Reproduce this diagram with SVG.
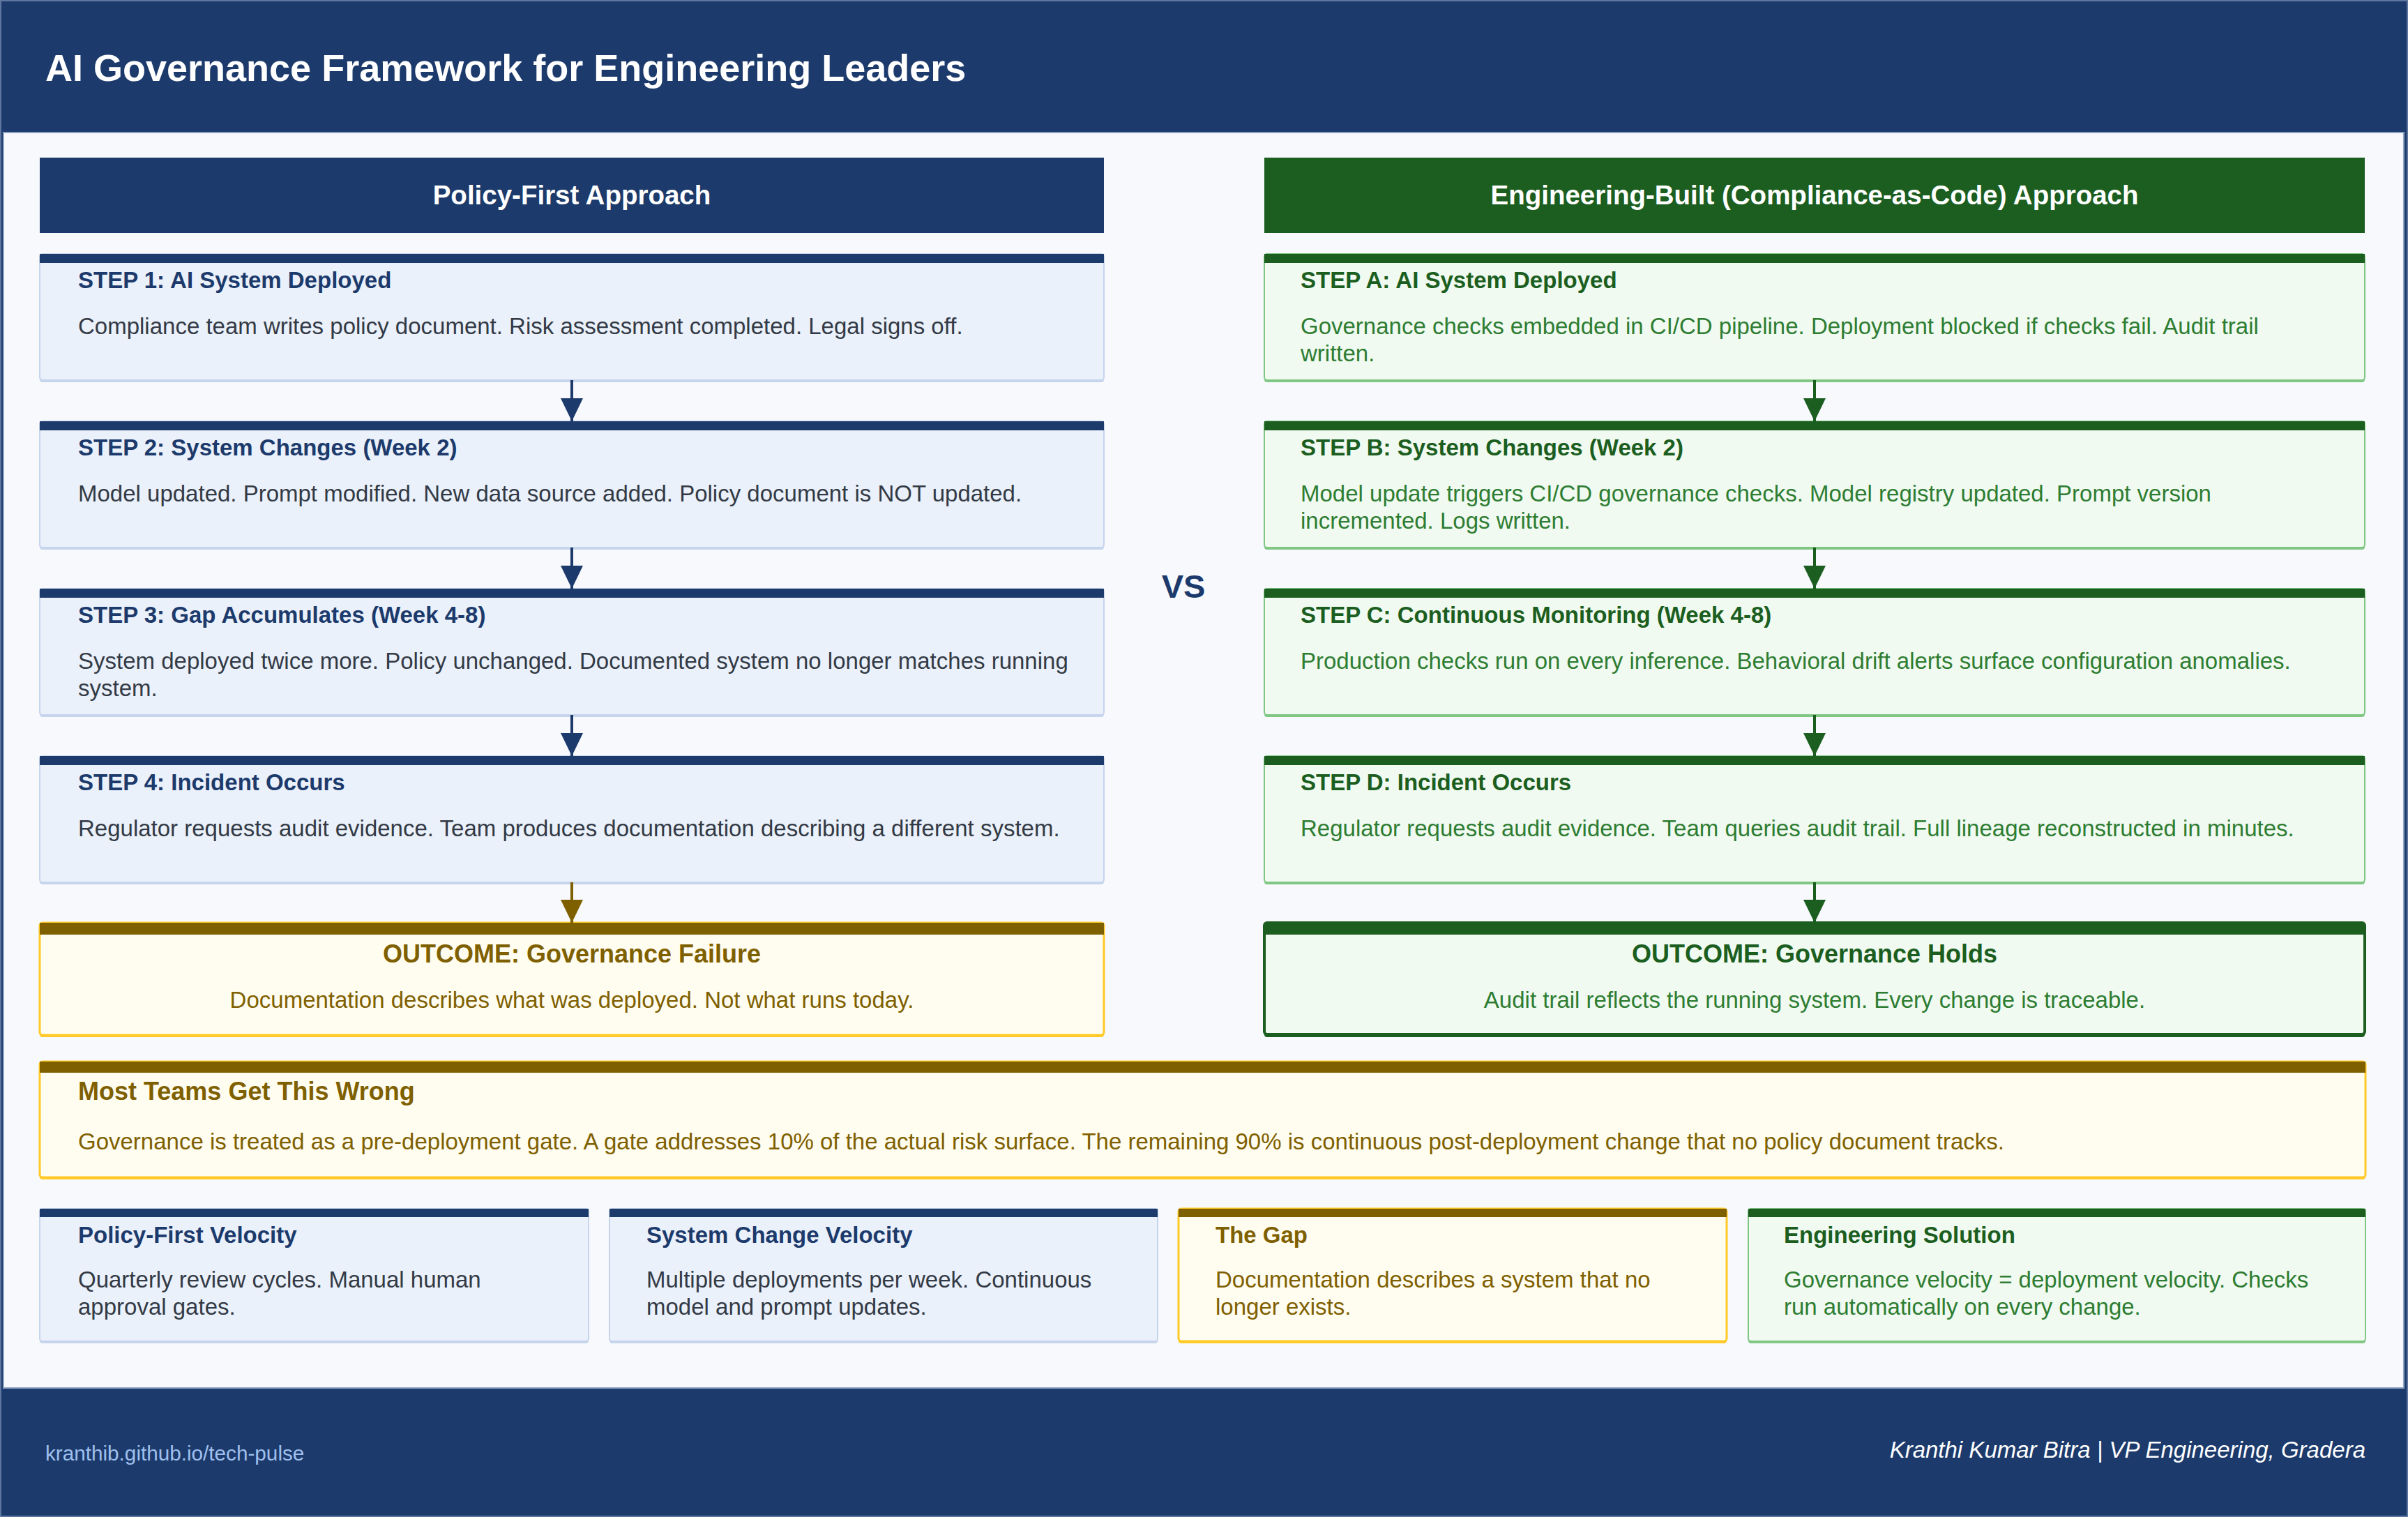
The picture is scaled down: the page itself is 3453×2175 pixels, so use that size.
<svg xmlns="http://www.w3.org/2000/svg" width="3453" height="2175" viewBox="0 0 3453 2175">
  <defs>
    <style>
      text { font-family: "Liberation Sans", Arial, Helvetica, sans-serif; }
      .h1 { font-size: 54px; font-weight: bold; fill: #ffffff; }
      .colhead { font-size: 38.5px; font-weight: bold; fill: #ffffff; }
      .vs { font-size: 47px; font-weight: bold; fill: #1c3a6b; }
      .ttl { font-size: 33px; font-weight: bold; }
      .big { font-size: 36px; font-weight: bold; }
      .txt { font-size: 33px; }
      .navy { fill: #1c3a6b; }
      .gray { fill: #333a45; }
      .dgreen { fill: #1b5e20; }
      .green { fill: #2e7d32; }
      .brown { fill: #7f6000; }
      .c { text-anchor: middle; }
      .box-b { fill: #eaf1fb; stroke: #c6d4ec; stroke-width: 2; }
      .sh-b { fill: #c6d4ec; }
      .bar-b { fill: #1c3a6b; }
      .box-g { fill: #f0faf1; stroke: #81c784; stroke-width: 2; }
      .sh-g { fill: #81c784; }
      .bar-g { fill: #1b5e20; }
      .box-y { fill: #fffdef; stroke: #ffca28; stroke-width: 3; }
      .sh-y { fill: #ffca28; }
      .bar-y { fill: #7f6000; }
      .box-gg { fill: #f0faf1; stroke: #1b5e20; stroke-width: 4; }
      .sh-gg { fill: #1b5e20; }
      .ln-b { stroke: #1c3a6b; stroke-width: 4; fill: none; marker-end: url(#ah-b); }
      .ln-g { stroke: #1b5e20; stroke-width: 4; fill: none; marker-end: url(#ah-g); }
      .ln-y { stroke: #7f6000; stroke-width: 4; fill: none; marker-end: url(#ah-y); }
    </style>
    <marker id="ah-b" viewBox="0 0 33 32" refX="33" refY="16" markerWidth="33" markerHeight="32" markerUnits="userSpaceOnUse" orient="auto">
      <path d="M0,0 L33,16 L0,32 z" fill="#1c3a6b"/>
    </marker>
    <marker id="ah-g" viewBox="0 0 33 32" refX="33" refY="16" markerWidth="33" markerHeight="32" markerUnits="userSpaceOnUse" orient="auto">
      <path d="M0,0 L33,16 L0,32 z" fill="#1b5e20"/>
    </marker>
    <marker id="ah-y" viewBox="0 0 33 32" refX="33" refY="16" markerWidth="33" markerHeight="32" markerUnits="userSpaceOnUse" orient="auto">
      <path d="M0,0 L33,16 L0,32 z" fill="#7f6000"/>
    </marker>
  </defs>

  <!-- frame, header and footer band -->
  <rect x="0" y="0" width="3453" height="2175" fill="#1c3a6b"/>
  <rect x="1" y="1" width="3451" height="2173" fill="none" stroke="#5e76a0" stroke-width="2"/>
  <rect x="5" y="190" width="3442" height="1800" fill="#f7f9fc" stroke="#8ea2c2" stroke-width="2"/>
  <text class="h1" x="65" y="116">AI Governance Framework for Engineering Leaders</text>

  <!-- column headers -->
  <g id="head-policy">
    <rect x="57" y="226" width="1526" height="108" fill="#1c3a6b"/>
    <text class="colhead c" x="820" y="293">Policy-First Approach</text>
  </g>
  <g id="head-engineering">
    <rect x="1813" y="226" width="1578" height="108" fill="#1b5e20"/>
    <text class="colhead c" x="2602" y="293">Engineering-Built (Compliance-as-Code) Approach</text>
  </g>
  <text id="vs" class="vs c" x="1697" y="857">VS</text>

  <!-- policy-first column -->
  <g id="step-1">
    <rect class="sh-b" x="57" y="367" width="1526" height="181" rx="4"/>
    <rect class="box-b" x="57" y="364" width="1526" height="181" rx="4"/>
    <rect class="bar-b" x="57" y="364" width="1526" height="13"/>
    <text class="ttl navy" x="112" y="413">STEP 1: AI System Deployed</text>
    <text class="txt gray" x="112" y="479">Compliance team writes policy document. Risk assessment completed. Legal signs off.</text>
  </g>
  <g id="step-2">
    <rect class="sh-b" x="57" y="607" width="1526" height="181" rx="4"/>
    <rect class="box-b" x="57" y="604" width="1526" height="181" rx="4"/>
    <rect class="bar-b" x="57" y="604" width="1526" height="13"/>
    <text class="ttl navy" x="112" y="653">STEP 2: System Changes (Week 2)</text>
    <text class="txt gray" x="112" y="719">Model updated. Prompt modified. New data source added. Policy document is NOT updated.</text>
  </g>
  <g id="step-3">
    <rect class="sh-b" x="57" y="847" width="1526" height="181" rx="4"/>
    <rect class="box-b" x="57" y="844" width="1526" height="181" rx="4"/>
    <rect class="bar-b" x="57" y="844" width="1526" height="13"/>
    <text class="ttl navy" x="112" y="893">STEP 3: Gap Accumulates (Week 4-8)</text>
    <text class="txt gray" x="112" y="959">System deployed twice more. Policy unchanged. Documented system no longer matches running</text>
    <text class="txt gray" x="112" y="998">system.</text>
  </g>
  <g id="step-4">
    <rect class="sh-b" x="57" y="1087" width="1526" height="181" rx="4"/>
    <rect class="box-b" x="57" y="1084" width="1526" height="181" rx="4"/>
    <rect class="bar-b" x="57" y="1084" width="1526" height="13"/>
    <text class="ttl navy" x="112" y="1133">STEP 4: Incident Occurs</text>
    <text class="txt gray" x="112" y="1199">Regulator requests audit evidence. Team produces documentation describing a different system.</text>
  </g>
  <g id="outcome-failure">
    <rect class="sh-y" x="57" y="1326" width="1526" height="161" rx="4"/>
    <rect class="box-y" x="57" y="1323" width="1526" height="161" rx="4"/>
    <rect class="bar-y" x="57" y="1323" width="1526" height="17"/>
    <text class="big brown c" x="820" y="1380">OUTCOME: Governance Failure</text>
    <text class="txt brown c" x="820" y="1445">Documentation describes what was deployed. Not what runs today.</text>
  </g>

  <!-- compliance-as-code column -->
  <g id="step-a">
    <rect class="sh-g" x="1813" y="367" width="1578" height="181" rx="4"/>
    <rect class="box-g" x="1813" y="364" width="1578" height="181" rx="4"/>
    <rect class="bar-g" x="1813" y="364" width="1578" height="13"/>
    <text class="ttl dgreen" x="1865" y="413">STEP A: AI System Deployed</text>
    <text class="txt green" x="1865" y="479">Governance checks embedded in CI/CD pipeline. Deployment blocked if checks fail. Audit trail</text>
    <text class="txt green" x="1865" y="518">written.</text>
  </g>
  <g id="step-b">
    <rect class="sh-g" x="1813" y="607" width="1578" height="181" rx="4"/>
    <rect class="box-g" x="1813" y="604" width="1578" height="181" rx="4"/>
    <rect class="bar-g" x="1813" y="604" width="1578" height="13"/>
    <text class="ttl dgreen" x="1865" y="653">STEP B: System Changes (Week 2)</text>
    <text class="txt green" x="1865" y="719">Model update triggers CI/CD governance checks. Model registry updated. Prompt version</text>
    <text class="txt green" x="1865" y="758">incremented. Logs written.</text>
  </g>
  <g id="step-c">
    <rect class="sh-g" x="1813" y="847" width="1578" height="181" rx="4"/>
    <rect class="box-g" x="1813" y="844" width="1578" height="181" rx="4"/>
    <rect class="bar-g" x="1813" y="844" width="1578" height="13"/>
    <text class="ttl dgreen" x="1865" y="893">STEP C: Continuous Monitoring (Week 4-8)</text>
    <text class="txt green" x="1865" y="959">Production checks run on every inference. Behavioral drift alerts surface configuration anomalies.</text>
  </g>
  <g id="step-d">
    <rect class="sh-g" x="1813" y="1087" width="1578" height="181" rx="4"/>
    <rect class="box-g" x="1813" y="1084" width="1578" height="181" rx="4"/>
    <rect class="bar-g" x="1813" y="1084" width="1578" height="13"/>
    <text class="ttl dgreen" x="1865" y="1133">STEP D: Incident Occurs</text>
    <text class="txt green" x="1865" y="1199">Regulator requests audit evidence. Team queries audit trail. Full lineage reconstructed in minutes.</text>
  </g>
  <g id="outcome-holds">
    <rect class="sh-gg" x="1813" y="1327" width="1578" height="160" rx="4"/>
    <rect class="box-gg" x="1813" y="1323" width="1578" height="160" rx="4"/>
    <rect class="bar-g" x="1813" y="1323" width="1578" height="17"/>
    <text class="big dgreen c" x="2602" y="1380">OUTCOME: Governance Holds</text>
    <text class="txt green c" x="2602" y="1445">Audit trail reflects the running system. Every change is traceable.</text>
  </g>

  <!-- flow arrows -->
  <g id="connectors">
    <path class="ln-b" d="M820,545 V604"/>
    <path class="ln-b" d="M820,785 V844"/>
    <path class="ln-b" d="M820,1025 V1084"/>
    <path class="ln-y" d="M820,1265 V1323"/>
    <path class="ln-g" d="M2602,545 V604"/>
    <path class="ln-g" d="M2602,785 V844"/>
    <path class="ln-g" d="M2602,1025 V1084"/>
    <path class="ln-g" d="M2602,1265 V1323"/>
  </g>

  <!-- key insight -->
  <g id="insight">
    <rect class="sh-y" x="57" y="1525" width="3335" height="166" rx="4"/>
    <rect class="box-y" x="57" y="1522" width="3335" height="166" rx="4"/>
    <rect class="bar-y" x="57" y="1522" width="3335" height="16"/>
    <text class="big brown" x="112" y="1577">Most Teams Get This Wrong</text>
    <text class="txt brown" x="112" y="1648">Governance is treated as a pre-deployment gate. A gate addresses 10% of the actual risk surface. The remaining 90% is continuous post-deployment change that no policy document tracks.</text>
  </g>

  <!-- velocity comparison cards -->
  <g id="card-policy-velocity">
    <rect class="sh-b" x="57" y="1736" width="787" height="190" rx="4"/>
    <rect class="box-b" x="57" y="1733" width="787" height="190" rx="4"/>
    <rect class="bar-b" x="57" y="1733" width="787" height="12"/>
    <text class="ttl navy" x="112" y="1782">Policy-First Velocity</text>
    <text class="txt gray" x="112" y="1846">Quarterly review cycles. Manual human</text>
    <text class="txt gray" x="112" y="1885">approval gates.</text>
  </g>
  <g id="card-system-velocity">
    <rect class="sh-b" x="874" y="1736" width="786" height="190" rx="4"/>
    <rect class="box-b" x="874" y="1733" width="786" height="190" rx="4"/>
    <rect class="bar-b" x="874" y="1733" width="786" height="12"/>
    <text class="ttl navy" x="927" y="1782">System Change Velocity</text>
    <text class="txt gray" x="927" y="1846">Multiple deployments per week. Continuous</text>
    <text class="txt gray" x="927" y="1885">model and prompt updates.</text>
  </g>
  <g id="card-gap">
    <rect class="sh-y" x="1690" y="1736" width="786" height="190" rx="4"/>
    <rect class="box-y" x="1690" y="1733" width="786" height="190" rx="4"/>
    <rect class="bar-y" x="1690" y="1733" width="786" height="12"/>
    <text class="ttl brown" x="1743" y="1782">The Gap</text>
    <text class="txt brown" x="1743" y="1846">Documentation describes a system that no</text>
    <text class="txt brown" x="1743" y="1885">longer exists.</text>
  </g>
  <g id="card-solution">
    <rect class="sh-g" x="2507" y="1736" width="885" height="190" rx="4"/>
    <rect class="box-g" x="2507" y="1733" width="885" height="190" rx="4"/>
    <rect class="bar-g" x="2507" y="1733" width="885" height="12"/>
    <text class="ttl dgreen" x="2558" y="1782">Engineering Solution</text>
    <text class="txt green" x="2558" y="1846">Governance velocity = deployment velocity. Checks</text>
    <text class="txt green" x="2558" y="1885">run automatically on every change.</text>
  </g>

  <!-- footer -->
  <text x="65" y="2094" font-size="29.7" fill="#9fc0ee">kranthib.github.io/tech-pulse</text>
  <text x="3392" y="2090" font-size="33" font-style="italic" fill="#ffffff" text-anchor="end">Kranthi Kumar Bitra | VP Engineering, Gradera</text>
</svg>
